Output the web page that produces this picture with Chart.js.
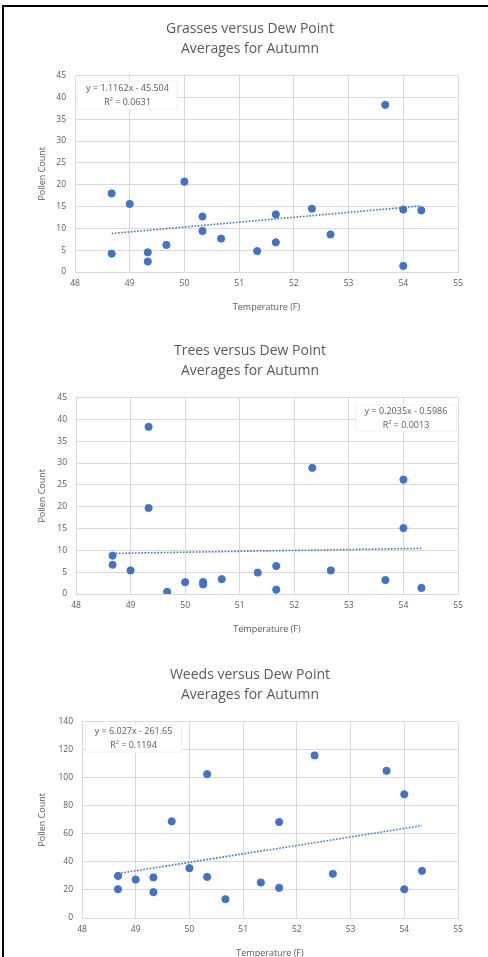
<!DOCTYPE html>
<html>
<head>
<meta charset="utf-8">
<script src="https://cdn.jsdelivr.net/npm/chart.js@4.4.0/dist/chart.umd.min.js"></script>
<style>
  html, body { margin: 0; padding: 0; background: #fff; overflow: hidden; }
  body { width: 488px; height: 957px; position: relative; }
  .frame-top { position: absolute; left: 2px; top: 5px; width: 486px; height: 2px; background: #000; }
  .frame-left { position: absolute; left: 2px; top: 5px; width: 2px; height: 952px; background: #000; }
  .box { position: absolute; left: 0; width: 488px; height: 312px; }
</style>
</head>
<body>
<div class="frame-top"></div>
<div class="frame-left"></div>
<div class="box" style="top:8px"><canvas id="grassChart"></canvas></div>
<div class="box" style="top:330px"><canvas id="treeChart"></canvas></div>
<div class="box" style="top:654px"><canvas id="weedChart"></canvas></div>
<script>
// average temperature (F) for each autumn period
const temps = [48.67, 48.67, 49, 49.33, 49.33, 49.67, 50, 50.33, 50.33, 50.67, 51.33, 51.67, 51.67, 52.33, 52.67, 53.67, 54, 54, 54.33];

// pollen counts, same order as temps
const grasses = [18, 4.2, 15.6, 4.5, 2.4, 6.2, 20.7, 12.7, 9.4, 7.65, 4.8, 13.2, 6.8, 14.5, 8.6, 38.3, 14.3, 1.4, 14.1];
const trees = [8.8, 6.7, 5.4, 38.3, 19.7, 0.5, 2.7, 2.75, 2.2, 3.4, 4.9, 6.4, 1.0, 28.9, 5.4, 3.2, 26.2, 15.1, 1.4];
const weeds = [20.5, 30.0, 27.4, 28.9, 18.4, 68.9, 35.5, 29.3, 102.5, 13.4, 25.3, 68.4, 21.5, 115.9, 31.5, 104.9, 88.2, 20.5, 33.6];

// linear trendline fits shown on the charts
const grassFit = [1.1162, -45.504];
const treeFit = [0.2035, -0.5986];
const weedFit = [6.027, -261.65];
const fitLabels = {
  grass: ['y = 1.1162x - 45.504', 'R² = 0.0631'],
  tree: ['y = 0.2035x - 0.5986', 'R² = 0.0013'],
  weed: ['y = 6.027x - 261.65', 'R² = 0.1194']
};

const xTicks = [48, 49, 50, 51, 52, 53, 54, 55];

const blue = '#4472C4';
const grey = '#595959';
const gridGrey = '#d9d9d9';
const FONT = "'Open Sans', sans-serif";
const PAD_L = 20, PAD_R = 8;

// white box with the trendline equation
const fitBoxPlugin = {
  id: 'fitBox',
  beforeDatasetsDraw(chart, args, opts) {
    if (!opts.lines) return;
    const a = chart.chartArea;
    const c = chart.ctx;
    const w = opts.w, h = opts.h;
    const x = opts.side === 'right' ? a.right - opts.dx - w : a.left + opts.dx;
    const y = a.top + opts.dy;
    c.save();
    c.fillStyle = '#fff';
    c.fillRect(x, y, w, h);
    c.strokeStyle = '#f0f0f0';
    c.lineWidth = 1;
    c.strokeRect(x + 0.5, y + 0.5, w - 1, h - 1);
    c.fillStyle = grey;
    c.font = '9px ' + FONT;
    c.textAlign = 'center';
    c.textBaseline = 'middle';
    c.fillText(opts.lines[0], x + w / 2, y + h / 2 - 7);
    c.fillText(opts.lines[1], x + w / 2, y + h / 2 + 7);
    c.restore();
  }
};

function makeChart(id, title, values, fit, yMax, yStep, axisW, box) {
  const pts = temps.map((t, i) => ({ x: t, y: values[i] }));
  const lo = Math.min(...temps), hi = Math.max(...temps);
  const trend = [lo, hi].map(t => ({ x: t, y: fit[0] * t + fit[1] }));
  return new Chart(document.getElementById(id), {
    type: 'scatter',
    data: {
      datasets: [{
        data: pts,
        backgroundColor: blue,
        borderColor: blue,
        pointRadius: 3.6,
        pointHoverRadius: 3.6
      }, {
        type: 'line',
        data: trend,
        borderColor: blue,
        borderWidth: 1.6,
        borderDash: [1.6, 1.6],
        pointRadius: 0,
        fill: false
      }]
    },
    options: {
      responsive: true,
      maintainAspectRatio: false,
      animation: false,
      layout: { padding: { left: PAD_L, right: PAD_R, top: 0, bottom: 0 } },
      plugins: {
        legend: { display: false },
        tooltip: { enabled: false },
        title: {
          display: true,
          text: [title, 'Averages for Autumn'],
          color: grey,
          font: { family: FONT, size: 14, weight: 'normal', lineHeight: 1.45 },
          padding: { top: 11, bottom: 16 }
        },
        fitBox: box
      },
      scales: {
        x: {
          type: 'linear',
          min: 48, max: 55,
          afterBuildTicks: s => { s.ticks = xTicks.map(v => ({ value: v })); },
          afterFit: s => { s.height = 48; },
          grid: { color: gridGrey, drawTicks: false },
          border: { color: gridGrey },
          ticks: { color: grey, font: { family: FONT, size: 8.5 }, padding: 6 },
          title: {
            display: true, text: 'Temperature (F)', color: grey,
            font: { family: FONT, size: 9 }, padding: { top: 0, bottom: 7 }
          }
        },
        y: {
          min: 0, max: yMax,
          ticks: { stepSize: yStep, color: grey, font: { family: FONT, size: 8.5 }, padding: 9 },
          afterFit: s => { s.width = axisW - PAD_L; },
          grid: { color: gridGrey, drawTicks: false },
          border: { display: false },
          title: {
            display: true, text: 'Pollen Count', color: grey,
            font: { family: FONT, size: 9 }, padding: { top: 37 - PAD_L, bottom: 0 }
          }
        },
        // empty right-hand spacer so the title stays centred on the page
        yPad: {
          position: 'right',
          min: 0, max: yMax,
          afterFit: s => { s.width = 488 - PAD_R - 458; },
          grid: { display: false },
          border: { display: false },
          ticks: { display: false }
        }
      }
    },
    plugins: [fitBoxPlugin]
  });
}

makeChart('grassChart', 'Grasses versus Dew Point', grasses, grassFit, 45, 5, 75,
  { lines: fitLabels.grass, side: 'left', dx: 2, dy: 5, w: 101, h: 29 });
makeChart('treeChart', 'Trees versus Dew Point', trees, treeFit, 45, 5, 76,
  { lines: fitLabels.tree, side: 'right', dx: 1, dy: 7, w: 102, h: 27 });
makeChart('weedChart', 'Weeds versus Dew Point', weeds, weedFit, 140, 20, 82,
  { lines: fitLabels.weed, side: 'left', dx: 3, dy: 3, w: 97, h: 28 });
</script>
</body>
</html>
